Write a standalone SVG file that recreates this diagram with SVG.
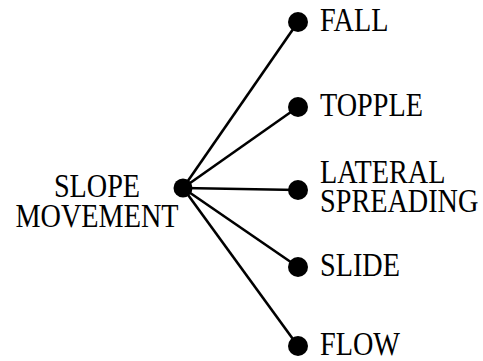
<svg xmlns="http://www.w3.org/2000/svg" width="483" height="361" viewBox="0 0 483 361">
<style>
.t{font-family:"Liberation Serif","Times New Roman",serif;font-size:34px;fill:#000}
.l{stroke:#000;stroke-width:2.6;fill:none}
.d{fill:#000}
</style>
<rect width="483" height="361" fill="#fff"/>
<g id="connectors">
<line class="l" x1="183" y1="188" x2="298" y2="22"/>
<line class="l" x1="183" y1="188" x2="298" y2="107"/>
<line class="l" x1="183" y1="188" x2="298" y2="190"/>
<line class="l" x1="183" y1="188" x2="298" y2="267"/>
<line class="l" x1="183" y1="188" x2="298" y2="346"/>
</g>
<g id="slope-movement">
<circle class="d" cx="183" cy="188" r="9.5"/>
<text class="t" transform="translate(97,197) scale(0.83,1)" text-anchor="middle">SLOPE</text>
<text class="t" transform="translate(97,227) scale(0.83,1)" text-anchor="middle">MOVEMENT</text>
</g>
<g id="fall">
<circle class="d" cx="298" cy="22" r="10"/>
<text class="t" transform="translate(320,30.5) scale(0.83,1)">FALL</text>
</g>
<g id="topple">
<circle class="d" cx="298" cy="107" r="10"/>
<text class="t" transform="translate(320,115.5) scale(0.83,1)">TOPPLE</text>
</g>
<g id="lateral-spreading">
<circle class="d" cx="298" cy="190" r="10"/>
<text class="t" transform="translate(320,183) scale(0.83,1)">LATERAL</text>
<text class="t" transform="translate(320,212) scale(0.83,1)">SPREADING</text>
</g>
<g id="slide">
<circle class="d" cx="298" cy="267" r="10"/>
<text class="t" transform="translate(320,276) scale(0.83,1)">SLIDE</text>
</g>
<g id="flow">
<circle class="d" cx="298" cy="346" r="10"/>
<text class="t" transform="translate(320,355) scale(0.83,1)">FLOW</text>
</g>
</svg>
